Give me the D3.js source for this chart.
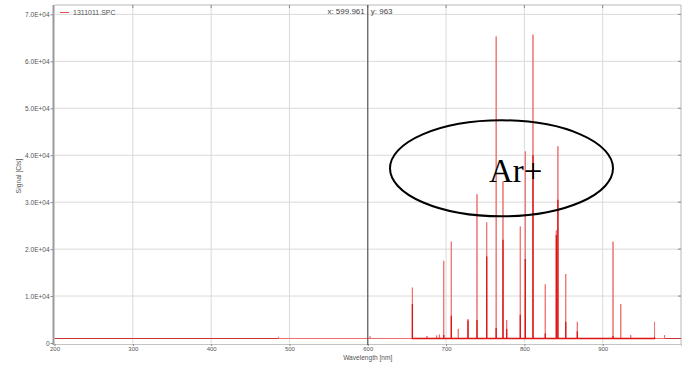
<!DOCTYPE html>
<html>
<head>
<meta charset="utf-8">
<script src="https://cdn.jsdelivr.net/npm/d3@7"></script>
<style>
  html, body { margin: 0; padding: 0; background: #fff; }
  svg { display: block; font-family: "Liberation Sans", Arial, sans-serif; }
</style>
</head>
<body>
<svg id="chart" width="684" height="365"></svg>
<script>
// ---- data ----
const xTicks = [200, 300, 400, 500, 600, 700, 800, 900];
const xTickLabels = ["200", "300", "400", "500", "600", "700", "800", "900"];
const yTicks = [0, 10000, 20000, 30000, 40000, 50000, 60000, 70000];
const yTickLabels = ["0", "1.0E+04", "2.0E+04", "3.0E+04", "4.0E+04", "5.0E+04", "6.0E+04", "7.0E+04"];
const baselineSignal = 963;
// emission lines: wavelength (nm), peak signal (faint tip), core signal (dense part)
const lineWavelength = [486, 603, 675.6, 688, 691.5, 657.0, 697.0, 706.7, 715.6, 728.0, 739.5, 751.9, 764.0, 772.7, 777.4, 794.8, 801.2, 811.0, 826.7, 840.8, 842.8, 852.8, 867.6, 913.2, 923.1, 935.8, 966.2, 979.0];
const linePeak =       [1300, 1400, 1500, 1600, 1800, 11800, 17500, 21600, 3000, 5100, 31700, 25700, 65300, 34400, 4900, 24800, 40800, 65700, 12500, 24000, 41900, 14700, 4500, 21600, 8300, 1700, 4500, 1700];
const lineCore =       [0, 0, 0, 0, 0, 8300, 1700, 5800, 0, 4800, 4900, 18400, 3200, 22000, 3000, 6000, 17900, 40000, 2000, 23000, 30500, 4500, 2500, 1500, 1000, 0, 1200, 0];
const legendLabel = "1311011.SPC";
const cursorX = 600;
const cursorText = ["x: 599.961", "y: 963"];
const annotation = "Ar+";

// ---- layout ----
const svg = d3.select("#chart");
const x = d3.scaleLinear().domain([200, 1000]).range([54.5, 681]);
const y = d3.scaleLinear().domain([0, 72000]).range([343, 5]);
const [x0, x1] = x.range();
const [yB, yT] = y.range();

// grid
svg.append("g").selectAll("line").data(xTicks.slice(1)).join("line")
  .attr("x1", d => x(d)).attr("x2", d => x(d)).attr("y1", yT).attr("y2", yB)
  .attr("stroke", "#dadada").attr("stroke-width", 1);
svg.append("g").selectAll("line").data(yTicks.slice(1)).join("line")
  .attr("x1", x0).attr("x2", x1).attr("y1", d => y(d)).attr("y2", d => y(d))
  .attr("stroke", "#dadada").attr("stroke-width", 1);

// frame top / right
svg.append("line").attr("x1", x0).attr("x2", x1).attr("y1", yT).attr("y2", yT).attr("stroke", "#b8b8b8");
svg.append("line").attr("x1", x1).attr("x2", x1).attr("y1", yT).attr("y2", yB + 2).attr("stroke", "#b8b8b8");
// inner ticks on top and right
svg.append("g").selectAll("line").data(xTicks.slice(1)).join("line")
  .attr("x1", d => x(d)).attr("x2", d => x(d)).attr("y1", yT).attr("y2", yT + 3).attr("stroke", "#888");
svg.append("g").selectAll("line").data(yTicks.slice(1)).join("line")
  .attr("x1", x1 - 3).attr("x2", x1).attr("y1", d => y(d)).attr("y2", d => y(d)).attr("stroke", "#888");

// spectrum
const base = baselineSignal;
svg.append("line").attr("x1", x0).attr("x2", x1)
  .attr("y1", y(base)).attr("y2", y(base))
  .attr("stroke", "#cc3333").attr("stroke-width", 1.2);

const spike = d3.line().x(d => x(d[0])).y(d => y(d[1]));
function spikePoints(vals) {
  const pts = [];
  lineWavelength.map((w, i) => [w, vals[i]]).filter(d => d[1] > 0)
    .sort((a, b) => a[0] - b[0])
    .forEach(([w, v]) => { pts.push([w - 0.05, base], [w, v], [w + 0.05, base]); });
  return pts;
}
svg.append("path").attr("d", spike(spikePoints(linePeak)))
  .attr("fill", "none").attr("stroke", "#ee7373").attr("stroke-width", 1);
svg.append("path").attr("d", spike(spikePoints(lineCore)))
  .attr("fill", "none").attr("stroke", "#dd1515").attr("stroke-width", 1.3);

// axes
const yAxis = d3.axisLeft(y).tickValues(yTicks).tickFormat((d, i) => yTickLabels[i]).tickSize(3).tickPadding(1);
const gy = svg.append("g").attr("transform", `translate(${x0 - 1},0)`).call(yAxis);
gy.select(".domain").remove();
gy.selectAll(".tick line").attr("stroke", "#888");
gy.selectAll("text").attr("font-size", 6.5).attr("fill", "#555")
  .style("font-family", "'Liberation Sans', Arial, sans-serif");
svg.append("line").attr("x1", x0 - 1).attr("x2", x0 - 1).attr("y1", yT).attr("y2", yB + 2)
  .attr("stroke", "#9a9a9a").attr("stroke-width", 2);

const xAxis = d3.axisBottom(x).tickValues(xTicks).tickFormat((d, i) => xTickLabels[i]).tickSize(2).tickPadding(1);
const gx = svg.append("g").attr("transform", `translate(0,${yB + 1})`).call(xAxis);
gx.select(".domain").attr("stroke", "#c4c4c4");
gx.selectAll(".tick line").attr("stroke", "#888");
gx.selectAll("text").attr("font-size", 6).attr("fill", "#555")
  .style("font-family", "'Liberation Sans', Arial, sans-serif");

// axis titles
svg.append("text").attr("x", x(600)).attr("y", 359.5).attr("text-anchor", "middle")
  .attr("font-size", 6.6).attr("fill", "#555").text("Wavelength [nm]");
svg.append("text").attr("transform", "translate(21,176) rotate(-90)").attr("text-anchor", "middle")
  .attr("font-size", 6.8).attr("fill", "#555").text("Signal [Cts]");

// cursor
svg.append("line").attr("x1", x(cursorX)).attr("x2", x(cursorX)).attr("y1", yT).attr("y2", yB + 2)
  .attr("stroke", "#5a5a5a").attr("stroke-width", 1.2);
svg.append("text").attr("x", x(cursorX) - 3).attr("y", 14).attr("text-anchor", "end")
  .attr("font-size", 8).attr("fill", "#444").text(cursorText[0]);
svg.append("text").attr("x", x(cursorX) + 3).attr("y", 14)
  .attr("font-size", 8).attr("fill", "#444").text(cursorText[1]);

// legend
svg.append("line").attr("x1", 60).attr("x2", 69).attr("y1", 12.5).attr("y2", 12.5)
  .attr("stroke", "#e05050").attr("stroke-width", 1);
svg.append("text").attr("x", 73).attr("y", 15).attr("font-size", 7).attr("fill", "#555").text(legendLabel);

// annotation
svg.append("ellipse").attr("cx", 501.5).attr("cy", 168.3).attr("rx", 111.5).attr("ry", 48)
  .attr("fill", "none").attr("stroke", "#000").attr("stroke-width", 2);
svg.append("text").attr("x", 489).attr("y", 181.5)
  .style("font-family", "'Liberation Serif', 'Times New Roman', serif")
  .attr("font-size", 33).attr("fill", "#000").text(annotation);
</script>
</body>
</html>
